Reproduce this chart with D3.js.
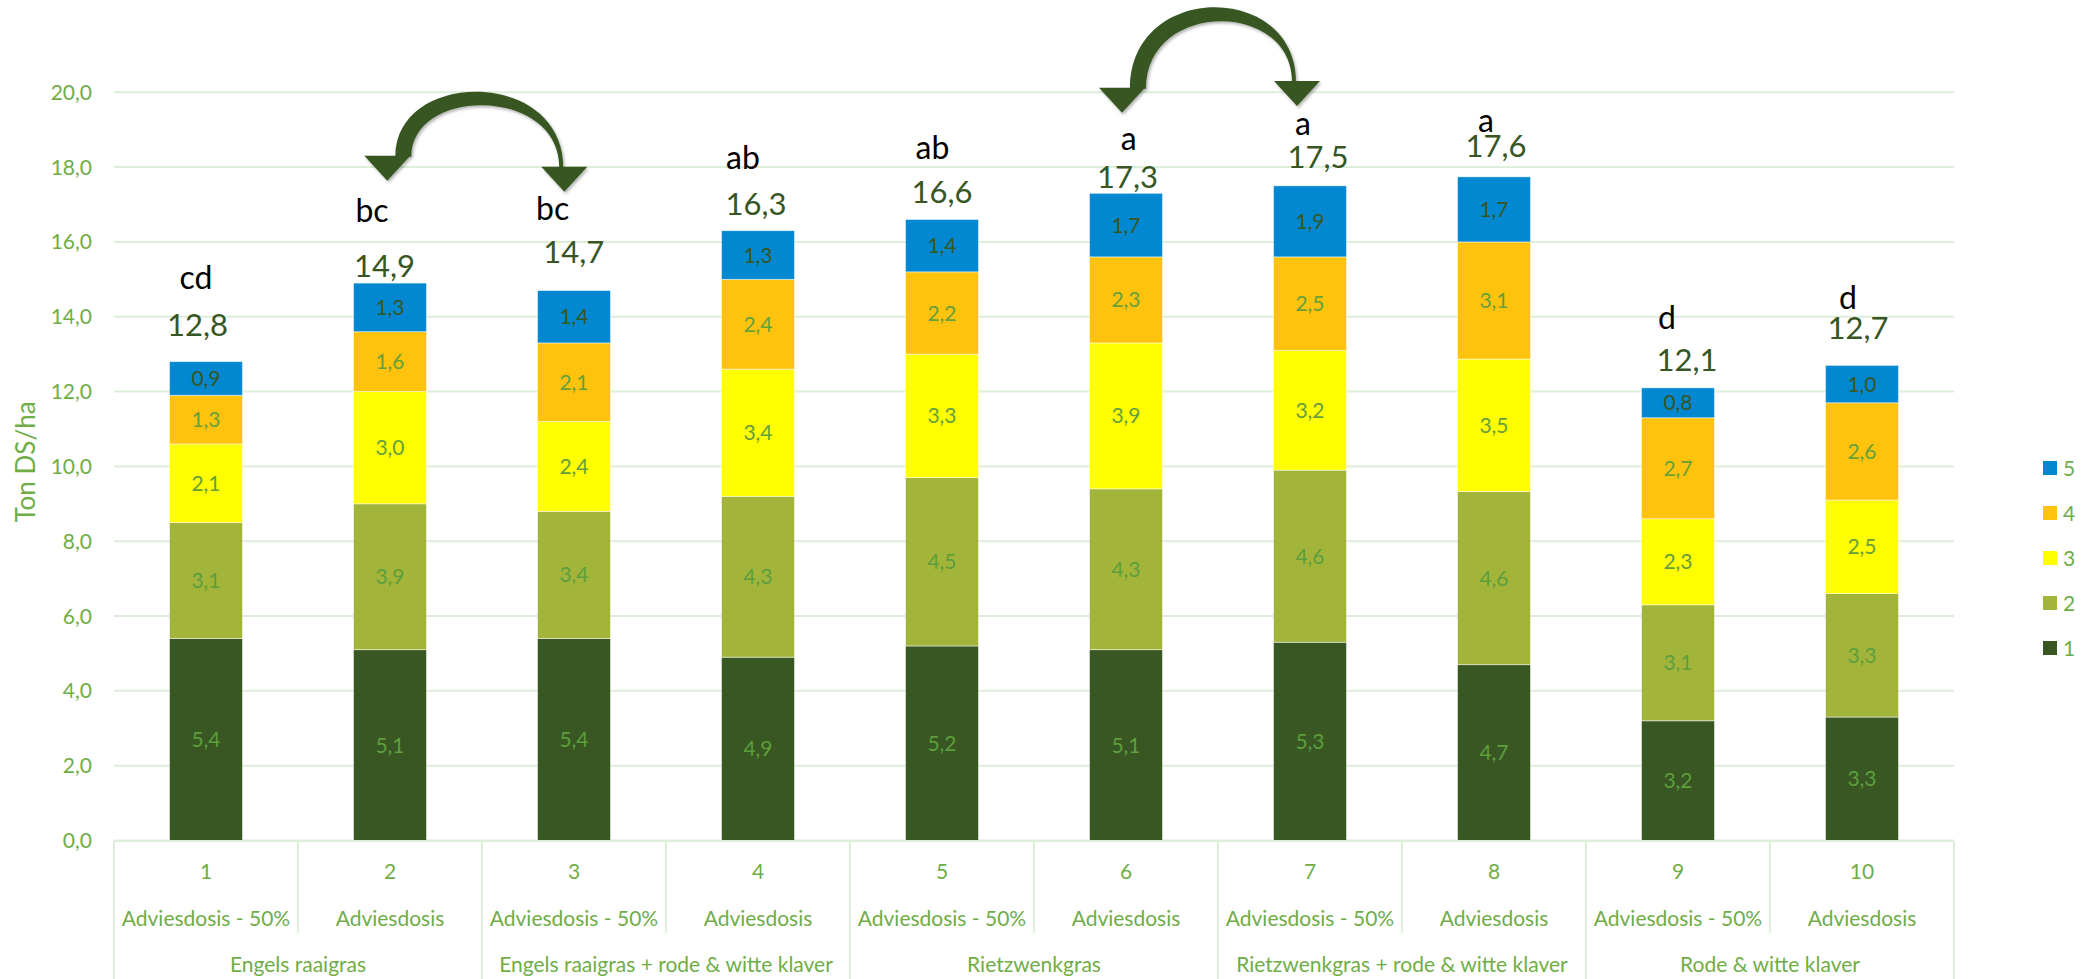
<!DOCTYPE html>
<html><head><meta charset="utf-8">
<script src="https://cdn.jsdelivr.net/npm/d3@7"></script>
<style>
html,body{margin:0;padding:0;background:#fff;}
svg{display:block;font-family:Lato,"Open Sans",sans-serif;}
</style></head><body>
<svg id="chart" width="2097" height="979"></svg>
<script>
// ---------- data ----------
const treatments = ["1","2","3","4","5","6","7","8","9","10"];
const doses = ["Adviesdosis - 50%","Adviesdosis","Adviesdosis - 50%","Adviesdosis","Adviesdosis - 50%","Adviesdosis","Adviesdosis - 50%","Adviesdosis","Adviesdosis - 50%","Adviesdosis"];
const groups = ["Engels raaigras","Engels raaigras + rode & witte klaver","Rietzwenkgras","Rietzwenkgras + rode & witte klaver","Rode & witte klaver"];
const groupOf = [0,0,1,1,2,2,3,3,4,4];
const seriesNames = ["1","2","3","4","5"];
const cut1 = [5.4,5.1,5.4,4.9,5.2,5.1,5.3,4.70,3.2,3.3];
const cut2 = [3.1,3.9,3.4,4.3,4.5,4.3,4.6,4.63,3.1,3.3];
const cut3 = [2.1,3.0,2.4,3.4,3.3,3.9,3.2,3.54,2.3,2.5];
const cut4 = [1.3,1.6,2.1,2.4,2.2,2.3,2.5,3.13,2.7,2.6];
const cut5 = [0.9,1.3,1.4,1.3,1.4,1.7,1.9,1.74,0.8,1.0];
const totals = [12.8,14.9,14.7,16.3,16.6,17.3,17.5,17.6,12.1,12.7];
const letters = ["cd","bc","bc","ab","ab","a","a","a","d","d"];
const yTicks = [0,2,4,6,8,10,12,14,16,18,20];
const yTitle = "Ton DS/ha";

// ---------- layout (annotation placement, px) ----------
const totalNudge  = [[-8.5,-26],[-5.5,-5.6],[-0.3,-28],[-2,-16],[0,-16.4],[1.5,-5.8],[8,-18.3],[2,-20.3],[9,-16.4],[-4,-26.3]];
const letterNudge = [[-10,-73],[-18,-60.6],[-21.3,-70.5],[-15,-61.6],[-9.5,-60.4],[2.7,-43.2],[-7,-50.7],[-8,-45],[-11,-58.8],[-14,-56.3]];
const separatorsAfter = [4, 8];
const arrows = [
  {from:1, to:2, dxL:-2.7, dxR:-9.7, tipL:180.7, tipR:191.7, top:91.7, thick:13.5},
  {from:5, to:6, dxL:-4, dxR:-13, tipL:112.7, tipR:106, top:7.3, thick:14}
];

const colors = ["#385723","#A2B53A","#FFFF00","#FFC30D","#0288D1"];
const labelColors = ["#5e9e3c","#5e9e3c","#66a03a","#66a03a","#375623"];
const green = "#70AD47", grid = "#DDEEDA";

const svg = d3.select("#chart");
const defs = svg.append("defs");
const f = defs.append("filter").attr("id","sh").attr("x","-20%").attr("y","-20%").attr("width","140%").attr("height","140%");
f.append("feDropShadow").attr("dx",1.5).attr("dy",2).attr("stdDeviation",1.5).attr("flood-color","#000").attr("flood-opacity",0.3);

const x = d3.scaleBand().domain(treatments).range([114,1954]).padding(0);
const y = d3.scaleLinear().domain([0,20]).range([840.5,92.3]);
const bw = 73;
const cx = i => x(treatments[i]) + x.bandwidth()/2;

// gridlines
svg.append("g").selectAll("line").data(yTicks).join("line")
  .attr("x1",114).attr("x2",1954).attr("y1",d=>y(d)).attr("y2",d=>y(d))
  .attr("stroke",grid).attr("stroke-width",2);

// y tick labels
const fmt = d => d3.format(".1f")(d).replace(".",",");
svg.append("g").selectAll("text").data(yTicks).join("text")
  .attr("x",92).attr("y",d=>y(d)+7.5).attr("text-anchor","end")
  .attr("font-size",21).attr("fill",green).text(fmt);

// y title
svg.append("text").attr("transform","translate(35,462) rotate(-90)")
  .attr("text-anchor","middle").attr("font-size",26).attr("fill",green).text(yTitle);

// stacked bars
const rows = treatments.map((t,i)=>({t, "1":cut1[i],"2":cut2[i],"3":cut3[i],"4":cut4[i],"5":cut5[i]}));
const stack = d3.stack().keys(seriesNames)(rows);
const gBars = svg.append("g");
stack.forEach((s,si)=>{
  const g = gBars.append("g");
  g.selectAll("rect").data(s).join("rect")
    .attr("x",d=>x(d.data.t)+x.bandwidth()/2-bw/2).attr("width",bw)
    .attr("y",d=>y(d[1])).attr("height",d=>y(d[0])-y(d[1]))
    .attr("fill",colors[si]).attr("stroke","#ffffff").attr("stroke-width",0.8).attr("stroke-opacity",0.6);
  g.selectAll("text").data(s).join("text")
    .attr("x",d=>x(d.data.t)+x.bandwidth()/2).attr("y",d=>(y(d[0])+y(d[1]))/2+7.5)
    .attr("text-anchor","middle").attr("font-size",21).attr("fill",labelColors[si])
    .text(d=>fmt(d[1]-d[0]));
});

// totals & letters
const tops = stack[stack.length-1].map(d=>y(d[1]));
svg.append("g").selectAll("text").data(totals).join("text")
  .attr("x",(d,i)=>cx(i)+totalNudge[i][0]).attr("y",(d,i)=>tops[i]+totalNudge[i][1])
  .attr("text-anchor","middle").attr("font-size",31).attr("fill","#375623").text(fmt);
svg.append("g").selectAll("text").data(letters).join("text")
  .attr("x",(d,i)=>cx(i)+letterNudge[i][0]).attr("y",(d,i)=>tops[i]+letterNudge[i][1])
  .attr("text-anchor","middle").attr("font-size",32).attr("fill","#000").text(d=>d);

// category axis
svg.append("line").attr("x1",114).attr("x2",1954).attr("y1",841).attr("y2",841).attr("stroke",grid).attr("stroke-width",2);
const borders = d3.range(treatments.length+1);
svg.append("g").selectAll("line").data(borders).join("line")
  .attr("x1",k=>114+x.bandwidth()*k).attr("x2",k=>114+x.bandwidth()*k)
  .attr("y1",841).attr("y2",k=>(k%2===0)?979:933)
  .attr("stroke",grid).attr("stroke-width",2);
svg.append("g").selectAll("text").data(treatments).join("text")
  .attr("x",(d,i)=>cx(i)).attr("y",879).attr("text-anchor","middle")
  .attr("font-size",21).attr("fill",green).text(d=>d);
svg.append("g").selectAll("text").data(doses).join("text")
  .attr("x",(d,i)=>cx(i)).attr("y",926).attr("text-anchor","middle")
  .attr("font-size",21).attr("fill",green).text(d=>d);
svg.append("g").selectAll("text").data(groups).join("text")
  .attr("x",(d,g)=>{const idx=groupOf.map((v,i)=>v===g?i:-1).filter(v=>v>=0);return (x(treatments[idx[0]])+x(treatments[idx[idx.length-1]])+x.bandwidth())/2;})
  .attr("y",972).attr("text-anchor","middle").attr("font-size",21).attr("fill",green).text(d=>d);

// separators
svg.append("g").selectAll("line").data(separatorsAfter).join("line")
  .attr("x1",k=>114+x.bandwidth()*k-4).attr("x2",k=>114+x.bandwidth()*k-4)
  .attr("y1",153).attr("y2",921).attr("stroke","#375623").attr("stroke-width",5).attr("filter","url(#sh)");

// arrows
function bez(x0,y0,x3,y3,ytop){const c=(ytop-(y0+y3)/8)/0.75;return `C ${x0} ${c} ${x3} ${c} ${x3} ${y3}`;}
arrows.forEach(a=>{
  const L=cx(a.from)+a.dxL, R=cx(a.to)+a.dxR;
  const hh=25, hw=23;
  const bL=a.tipL-hh, bR=a.tipR-hh;
  const p = `M ${L+8} ${bL+1} ${bez(L+8,bL+1,R-1,bR+1,a.top)} L ${R-5} ${bR+1} `+
            `C ${R-5} ${0} ${L+24} 0 ${L+24} ${bL+1} Z`;
  // inner curve recomputed
  const ci=(a.top+a.thick-((bR+1)+(bL+1))/8)/0.75;
  const path = `M ${L+8} ${bL+1} ${bez(L+8,bL+1,R-1,bR+1,a.top)} L ${R-5} ${bR+1} C ${R-5} ${ci} ${L+24} ${ci} ${L+24} ${bL+1} Z`;
  const g = svg.append("g").attr("filter","url(#sh)").attr("fill","#375623");
  g.append("path").attr("d",path);
  g.append("path").attr("d",`M ${L-hw} ${bL} L ${L+hw} ${bL} L ${L} ${a.tipL} Z`);
  g.append("path").attr("d",`M ${R-hw} ${bR} L ${R+hw} ${bR} L ${R} ${a.tipR} Z`);
});

// legend
const legendOrder = seriesNames.slice().reverse();
const lg = svg.append("g").selectAll("g").data(legendOrder).join("g")
  .attr("transform",(d,i)=>`translate(2043,${461+45*i})`);
lg.append("rect").attr("width",14).attr("height",14).attr("fill",d=>colors[seriesNames.indexOf(d)]);
lg.append("text").attr("x",20).attr("y",14.5).attr("font-size",21).attr("fill",green).text(d=>d);
</script>
</body></html>
